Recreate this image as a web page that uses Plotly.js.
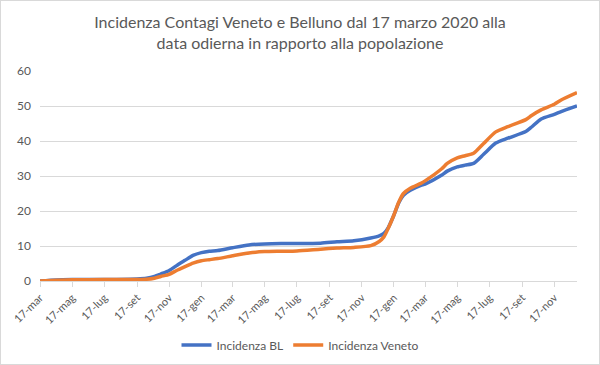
<!DOCTYPE html>
<html>
<head>
<meta charset="utf-8">
<script src="https://cdn.plot.ly/plotly-3.0.1.min.js"></script>
<style>
  html, body { margin: 0; padding: 0; background: #fff; }
  #chart { position: absolute; left: 0; top: 0; width: 598px; height: 363px; border: 1px solid #d9d9d9; }
</style>
</head>
<body>
<div id="chart"></div>
<script>
const dates = [
  "2020-03-17","2020-04-17","2020-05-17","2020-07-17","2020-09-17","2020-10-05","2020-10-20",
  "2020-11-01","2020-11-17","2020-12-01","2020-12-17","2021-01-01","2021-01-17","2021-02-01",
  "2021-02-17","2021-03-17","2021-04-17","2021-05-17","2021-06-17","2021-07-17","2021-08-31",
  "2021-10-01","2021-11-02","2021-12-04","2021-12-20","2021-12-29","2022-01-06","2022-01-16",
  "2022-01-26","2022-02-04","2022-02-17","2022-03-09","2022-03-17","2022-04-17","2022-04-28",
  "2022-05-17","2022-06-01","2022-06-17","2022-07-06","2022-07-29","2022-08-21","2022-09-24",
  "2022-10-05","2022-10-23","2022-11-17","2022-11-30","2022-12-30"
];
const incidenzaBL = [
  0, 0.3, 0.4, 0.45, 0.6, 0.8, 1.3,
  2.0, 3.0, 4.4, 5.9, 7.3, 8.1, 8.5,
  8.7, 9.5, 10.3, 10.6, 10.7, 10.7, 10.8,
  11.2, 11.5, 12.3, 12.9, 13.6, 15.2, 18.5,
  22.3, 24.5, 25.9, 27.3, 27.7, 30.2, 31.4,
  32.6, 33.1, 33.6, 36.2, 39.4, 40.8, 42.7,
  44.0, 46.3, 47.6, 48.4, 50.0
];
const incidenzaVeneto = [
  0, 0.2, 0.35, 0.4, 0.45, 0.5, 0.8,
  1.3, 1.9, 3.0, 4.1, 5.1, 5.8, 6.1,
  6.4, 7.2, 8.0, 8.4, 8.5, 8.6, 9.1,
  9.4, 9.6, 10.1, 11.3, 12.6, 15.0, 18.5,
  22.5, 25.0, 26.5, 27.9, 28.6, 32.0, 33.6,
  35.2, 35.8, 36.5, 39.3, 42.6, 44.1, 46.1,
  47.3, 48.9, 50.5, 51.7, 53.8
];
const tickDates = [
  "2020-03-17","2020-05-17","2020-07-17","2020-09-17","2020-11-17","2021-01-17",
  "2021-03-17","2021-05-17","2021-07-17","2021-09-17","2021-11-17","2022-01-17",
  "2022-03-17","2022-05-17","2022-07-17","2022-09-17","2022-11-17"
];
const tickLabels = [
  "17-mar","17-mag","17-lug","17-set","17-nov","17-gen",
  "17-mar","17-mag","17-lug","17-set","17-nov","17-gen",
  "17-mar","17-mag","17-lug","17-set","17-nov"
];
const yTicks = [0, 10, 20, 30, 40, 50, 60];

const fontFam = "Lato, 'Open Sans', sans-serif";
const data = [
  { x: dates, y: incidenzaBL, name: "Incidenza BL", type: "scatter", mode: "lines",
    line: { color: "#4472C4", width: 3.5, shape: "spline", smoothing: 0.6 } },
  { x: dates, y: incidenzaVeneto, name: "Incidenza Veneto", type: "scatter", mode: "lines",
    line: { color: "#ED7D31", width: 3.5, shape: "spline", smoothing: 0.6 } }
];
const layout = {
  width: 598, height: 363,
  margin: { l: 39, r: 22, t: 70, b: 83 },
  paper_bgcolor: "#fff", plot_bgcolor: "#fff",
  font: { family: fontFam, color: "#595959", size: 12 },
  title: { text: "Incidenza Contagi Veneto e Belluno dal 17 marzo 2020 alla<br>data odierna in rapporto alla popolazione",
           font: { family: fontFam, size: 16, color: "#595959" }, x: 0.5, xanchor: "center",
           yref: "container", y: 0.925, yanchor: "middle", automargin: false },
  xaxis: {
    type: "date", range: ["2020-03-17", "2022-12-30"], automargin: false,
    tickvals: tickDates, ticktext: tickLabels, tickangle: -45,
    showgrid: false, zeroline: false, showline: true, linecolor: "#d9d9d9", linewidth: 1,
    ticks: "outside", ticklen: 5, tickcolor: "#d9d9d9",
    tickfont: { size: 11, color: "#595959" }
  },
  yaxis: {
    range: [0, 60], tickvals: yTicks, showgrid: true, gridcolor: "#d9d9d9", gridwidth: 1,
    zeroline: false, showline: false, ticks: "", ticklabelstandoff: 8, automargin: false,
    tickfont: { size: 12, color: "#595959" }
  },
  showlegend: true,
  legend: { orientation: "h", x: 0.5, xanchor: "center", xref: "container",
            yref: "container", y: 0.052, yanchor: "middle",
            font: { size: 12, color: "#595959" } }
};
Plotly.newPlot("chart", data, layout, { displayModeBar: false, staticPlot: true });
</script>
</body>
</html>
